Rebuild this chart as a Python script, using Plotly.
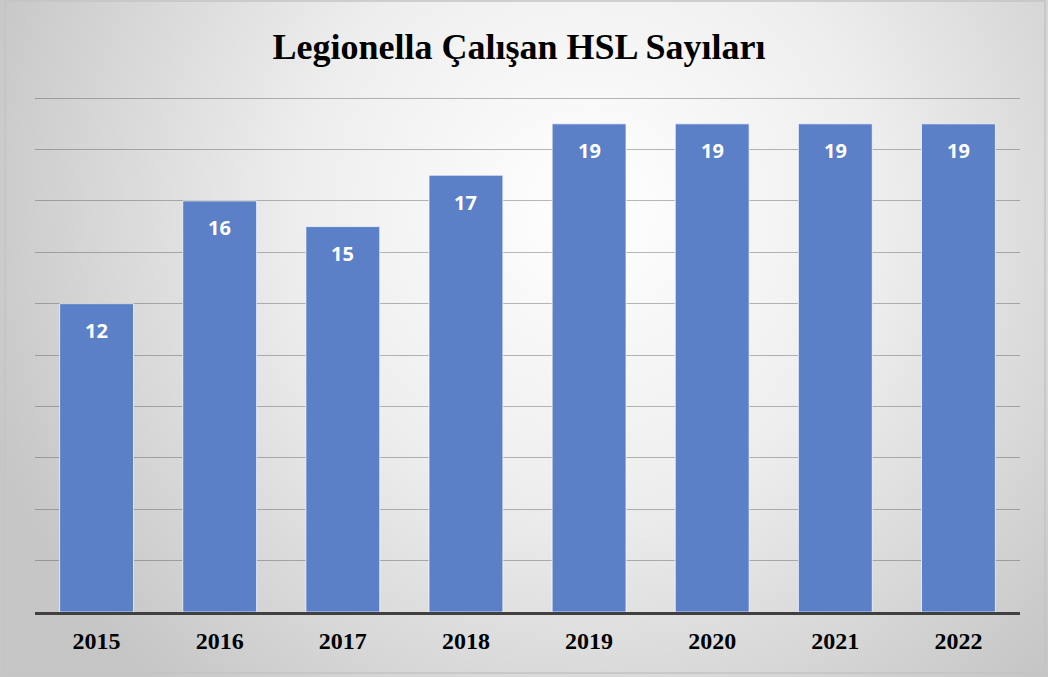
import base64
import plotly.graph_objects as go

years = ["2015", "2016", "2017", "2018", "2019", "2020", "2021", "2022"]
counts = [12, 16, 15, 17, 19, 19, 19, 19]
title_text = "Legionella Çalışan HSL Sayıları"

W, H = 1048, 677
L, R, T, B = 35, 28, 93, 65
pw, ph = W - L - R, H - T - B

# radial grey-to-white background, like the office chart style
svg = (
    '<svg xmlns="http://www.w3.org/2000/svg" width="1048" height="677" '
    'viewBox="0 0 1048 677" preserveAspectRatio="none">'
    '<defs><radialGradient id="g" gradientUnits="userSpaceOnUse" cx="590" cy="210" r="640">'
    '<stop offset="0" stop-color="#ffffff"/>'
    '<stop offset="0.45" stop-color="#eeeeee"/>'
    '<stop offset="1" stop-color="#c6c6c6"/>'
    '</radialGradient></defs>'
    '<rect width="1048" height="677" fill="url(#g)"/></svg>'
)
bg_uri = "data:image/svg+xml;base64," + base64.b64encode(svg.encode()).decode()

fig = go.Figure()
fig.add_trace(go.Bar(
    x=years,
    y=counts,
    marker=dict(color="#5b80c8", line=dict(color="rgba(255,255,255,0.7)", width=1)),
    width=0.6,
    hoverinfo="x+y",
))

# value labels sit a bit below the bar top (index positions on the category axis)
annotations = []
for i, c in enumerate(counts):
    annotations.append(dict(
        x=i, y=c, text=f"<b>{c}</b>", showarrow=False, yshift=-27,
        font=dict(family="Open Sans, Noto Sans, sans-serif", size=20, color="white"),
    ))

fig.update_layout(
    width=W, height=H,
    margin=dict(l=L, r=R, t=T, b=B),
    paper_bgcolor="white",
    plot_bgcolor="rgba(0,0,0,0)",
    title=dict(
        text=f"<b>{title_text}</b>",
        x=519 / W, xanchor="center", y=1 - 46 / H, yanchor="middle",
        font=dict(family="Liberation Serif, Times New Roman, serif", size=36, color="black"),
    ),
    images=[dict(
        source=bg_uri, xref="paper", yref="paper",
        x=-L / pw, y=1 + T / ph, sizex=W / pw, sizey=H / ph,
        xanchor="left", yanchor="top", sizing="stretch", layer="below",
    )],
    shapes=[dict(
        type="rect", xref="paper", yref="paper",
        x0=-(L - 5) / pw, x1=1 + (R - 3) / pw,
        y0=-(B - 4) / ph, y1=1 + (T - 1) / ph,
        line=dict(color="#c4c4c4", width=1.5), fillcolor="rgba(0,0,0,0)", layer="below",
    )],
    annotations=annotations,
    showlegend=False,
    bargap=0.4,
)
fig.update_xaxes(
    type="category", automargin=False, range=[-0.5, len(years) - 0.5],
    showline=True, linecolor="#404040", linewidth=3,
    showgrid=False, ticks="",
    tickfont=dict(family="Liberation Serif, Times New Roman, serif", size=24, color="black"),
    ticklabelstandoff=5,
    tickprefix="<b>", ticksuffix="</b>",
)
fig.update_yaxes(
    range=[0, 20.2], dtick=2, showticklabels=False, automargin=False,
    showgrid=True, gridcolor="rgba(80,80,80,0.4)", gridwidth=1,
    zeroline=False,
)

fig.write_html("out.html", config={"displayModeBar": False},
               post_script="document.body.style.margin='0px';")
